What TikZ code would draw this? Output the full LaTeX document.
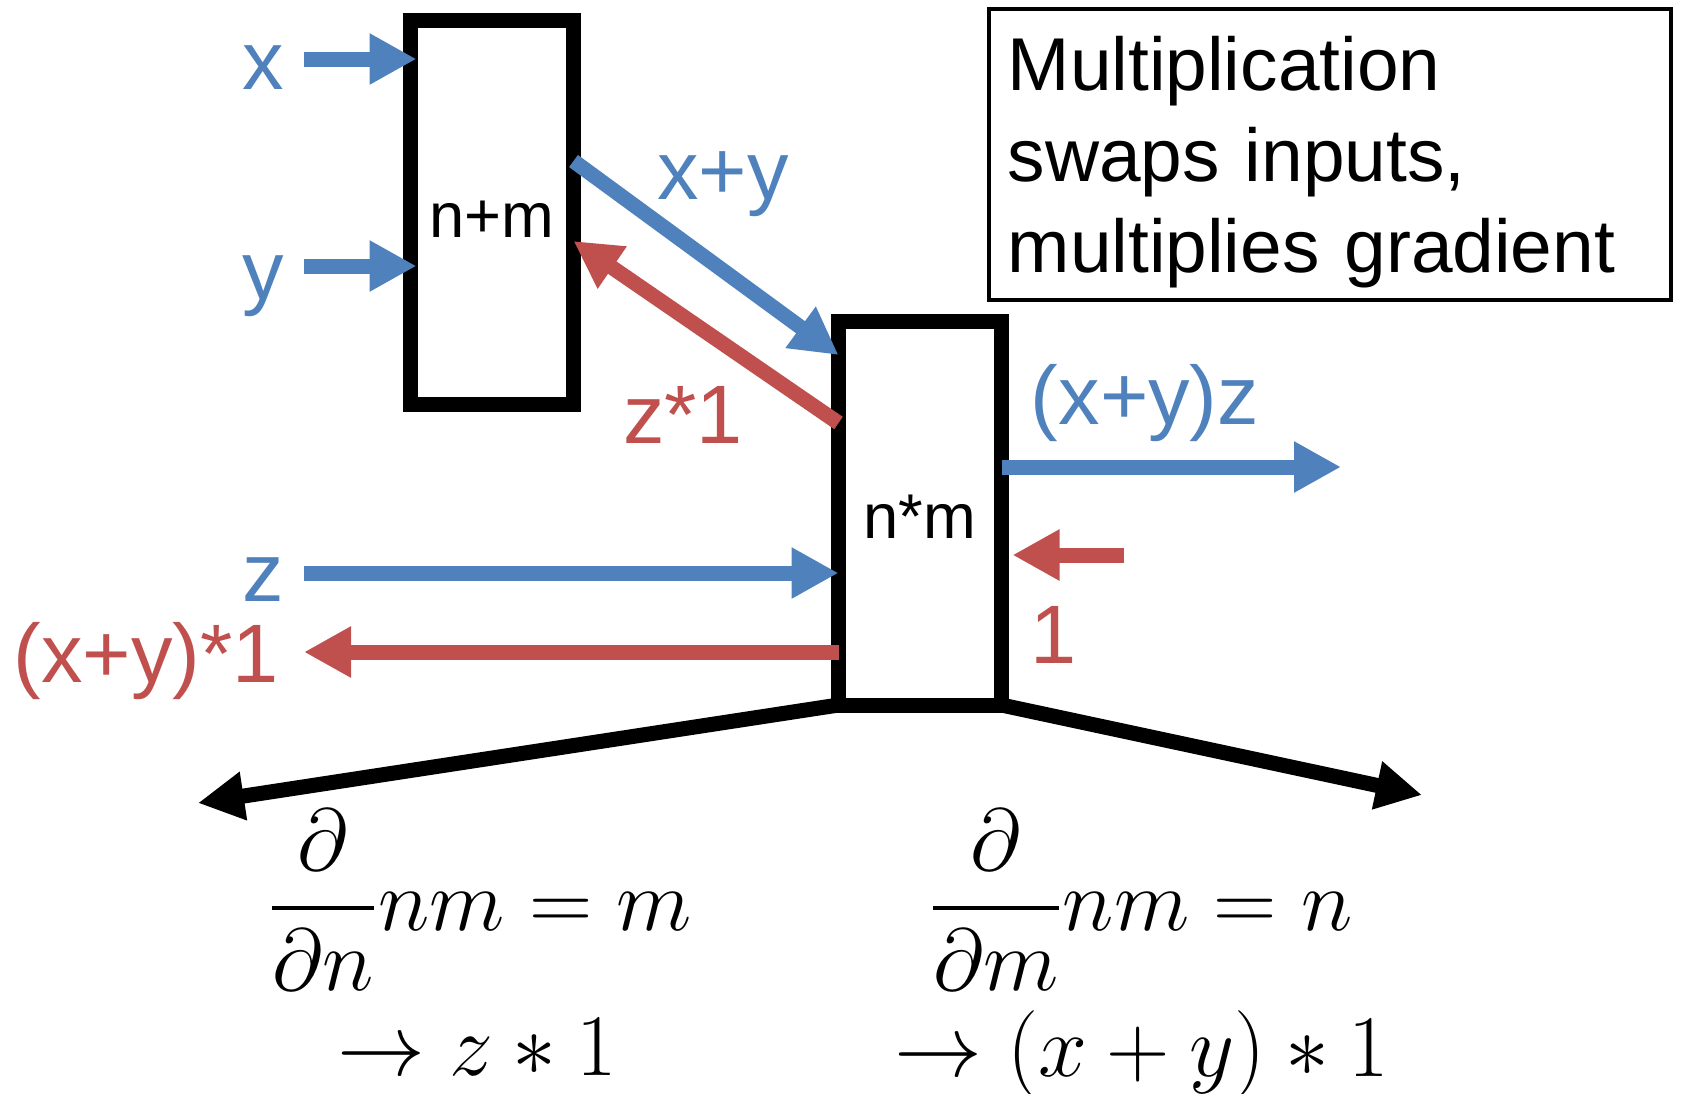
\RequirePackage{fix-cm}
\documentclass[tikz,border=0pt]{standalone}
\usepackage{amsmath}
\usepackage[no-math]{fontspec}
\setmainfont{Liberation Sans}
\usetikzlibrary{arrows.meta}
\definecolor{fwdblue}{RGB}{79,129,189}
\definecolor{bwdred}{RGB}{192,80,77}

\begin{document}
\begin{tikzpicture}[
  opbox/.style={draw, line width=1.5mm, outer sep=0pt, minimum width=1.63cm,
    minimum height=3.84cm, text height=5.1mm, text depth=0pt,
    font=\fontsize{18}{22}\selectfont},
  lbl/.style={inner sep=0pt, font=\fontsize{23.6}{28}\selectfont},
  fwd/.style={fwdblue, line width=1.5mm, -{Triangle[length=4.7mm,width=4.8mm]}},
  bwd/.style={bwdred, line width=1.5mm, -{Triangle[length=4.7mm,width=4.8mm]}},
  deriv/.style={black, line width=1.5mm, -{Triangle[length=4.6mm,width=4.6mm]}},
  eqn/.style={inner sep=0pt, font=\fontsize{25}{30}\selectfont}]
\useasboundingbox (0,0) rectangle (16.82,-10.93);
% ---- operation boxes
\node[opbox] (add) at (4.92,-2.12) {n+m};
\node[opbox] (mul) at (9.20,-5.13) {n*m};
% ---- forward pass
\node[lbl, fwdblue] (xl) at (2.63,-0.68) {x};
\node[lbl, fwdblue] (yl) at (2.63,-2.86) {y};
\node[lbl, fwdblue] (zl) at (2.63,-5.80) {z};
\node[lbl, fwdblue] (suml) at (7.23,-1.84) {x+y};
\node[lbl, fwdblue] (outl) at (11.45,-4.03) {(x+y)z};
\coordinate (xin) at (3.04,-0.59);
\coordinate (yin) at (3.04,-2.66);
\coordinate (zin) at (3.04,-5.73);
\coordinate (out) at (13.41,-4.67);
\draw[fwd, shorten >=-0.6mm] (xin) -- (xin -| add.west);
\draw[fwd, shorten >=-0.6mm] (yin) -- (yin -| add.west);
\draw[fwd] ([yshift=-14.1mm]add.north east) -- ([yshift=-3.4mm]mul.north west);
\draw[fwd] (zin) -- (zin -| mul.west);
\draw[fwd] (mul.east |- out) -- (out);
% ---- backward pass
\node[lbl, bwdred] (gradz) at (6.83,-4.15) {z*1};
\node[lbl, bwdred] (one) at (10.54,-6.35) {1};
\node[lbl, bwdred] (gradxy) at (1.46,-6.61) {(x+y)*1};
\coordinate (gin) at (11.24,-5.55);
\coordinate (gxy) at (3.04,-6.52);
\draw[bwd, shorten >=1.1mm] (gin) -- (gin -| mul.east);
\draw[bwd] ([yshift=-10.2mm]mul.north west) -- ([yshift=-22.1mm]add.north east);
\draw[bwd] (mul.west |- gxy) -- (gxy);
% ---- local derivatives
\coordinate (dn) at (1.98,-8.03);
\coordinate (dm) at (14.22,-7.95);
\draw[deriv] (mul.south west) -- (dn);
\draw[deriv] (mul.south east) -- (dm);
\node[eqn] (dnl) at (4.80,-9.00) {$\dfrac{\partial}{\partial n}nm=m$};
\node[eqn] (dnv) at (4.77,-10.47) {$\rightarrow z*1$};
\node[eqn] (dml) at (11.41,-9.00) {$\dfrac{\partial}{\partial m}nm=n$};
\node[eqn] (dmv) at (11.42,-10.55) {$\rightarrow (x+y)*1$};
% ---- note
\draw[line width=0.4mm] (9.89,-0.09) rectangle (16.71,-3.00);
\node[anchor=north west, inner sep=0pt, text width=6.4cm, align=left,
  font=\fontsize{21.3}{25.8}\selectfont] (note) at (10.07,-0.36)
  {Multiplication\\swaps inputs,\\multiplies gradient};
\end{tikzpicture}
\end{document}
